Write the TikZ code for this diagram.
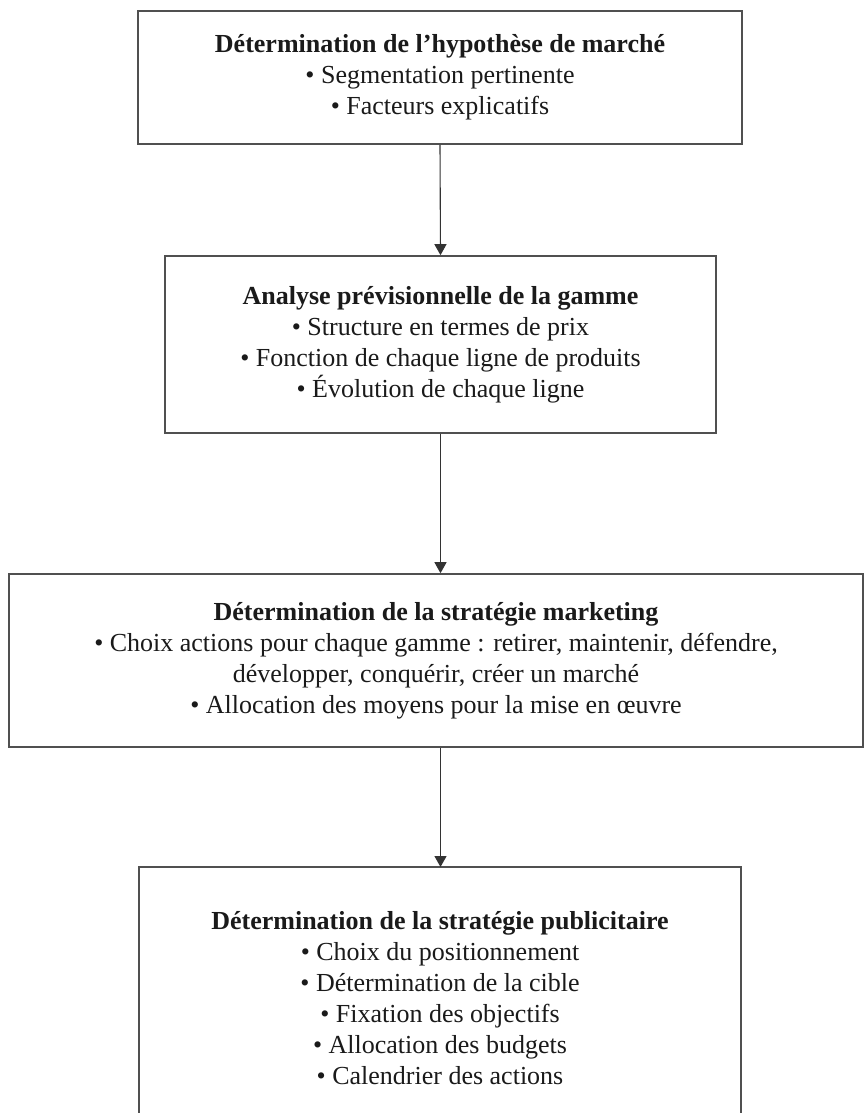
\documentclass[tikz,border=0pt]{standalone}
\usepackage{fontspec}
\setmainfont{Liberation Serif}
\usetikzlibrary{arrows.meta}
\definecolor{ink}{HTML}{1A1A1A}
\definecolor{frame}{HTML}{505050}
\definecolor{wire}{HTML}{333333}
\begin{document}
\begin{tikzpicture}[x=1pt,y=1pt,
  every node/.style={font=\fontsize{26}{31}\selectfont, text=ink, align=center, inner sep=0pt},
  stage/.style={draw=frame, line width=1.6pt},
  flow/.style={draw=wire, line width=1.1pt, -{Triangle[length=11pt,width=12pt]}},
  edge/.style={draw=frame, line width=1.6pt}]
\useasboundingbox[fill=white] (0,0) rectangle (864,-1113);

\node[stage, minimum width=604, minimum height=133] (b1) at (440,-77.5)
  {\textbf{Détermination de l’hypothèse de marché}\\
   • Segmentation pertinente\\
   • Facteurs explicatifs};

\node[stage, minimum width=551, minimum height=177] (b2) at (440.5,-344.5)
  {\textbf{Analyse prévisionnelle de la gamme}\\
   • Structure en termes de prix\\
   • Fonction de chaque ligne de produits\\
   • Évolution de chaque ligne};

\node[stage, minimum width=854, minimum height=173] (b3) at (436,-660.5)
  {\textbf{Détermination de la stratégie marketing}\\
   • Choix actions pour chaque gamme : retirer, maintenir, défendre,\\
   développer, conquérir, créer un marché\\
   • Allocation des moyens pour la mise en œuvre};

% last stage runs off the bottom edge: frame drawn on three sides only
\node[minimum width=602, minimum height=280, anchor=north] (b4) at (440,-867) {};
\node[anchor=north] (t4) at (440,-911)
  {\textbf{Détermination de la stratégie publicitaire}\\
   • Choix du positionnement\\
   • Détermination de la cible\\
   • Fixation des objectifs\\
   • Allocation des budgets\\
   • Calendrier des actions};
\draw[edge] (b4.south west) -- (b4.north west) -- (b4.north east) -- (b4.south east);

\draw[flow] (b1.south) -- (b2.north);
\draw[flow] (b2.south) -- (b2.south |- b3.north);
\draw[flow] (b2.south |- b3.south) -- (b2.south |- b4.north);
\end{tikzpicture}
\end{document}
